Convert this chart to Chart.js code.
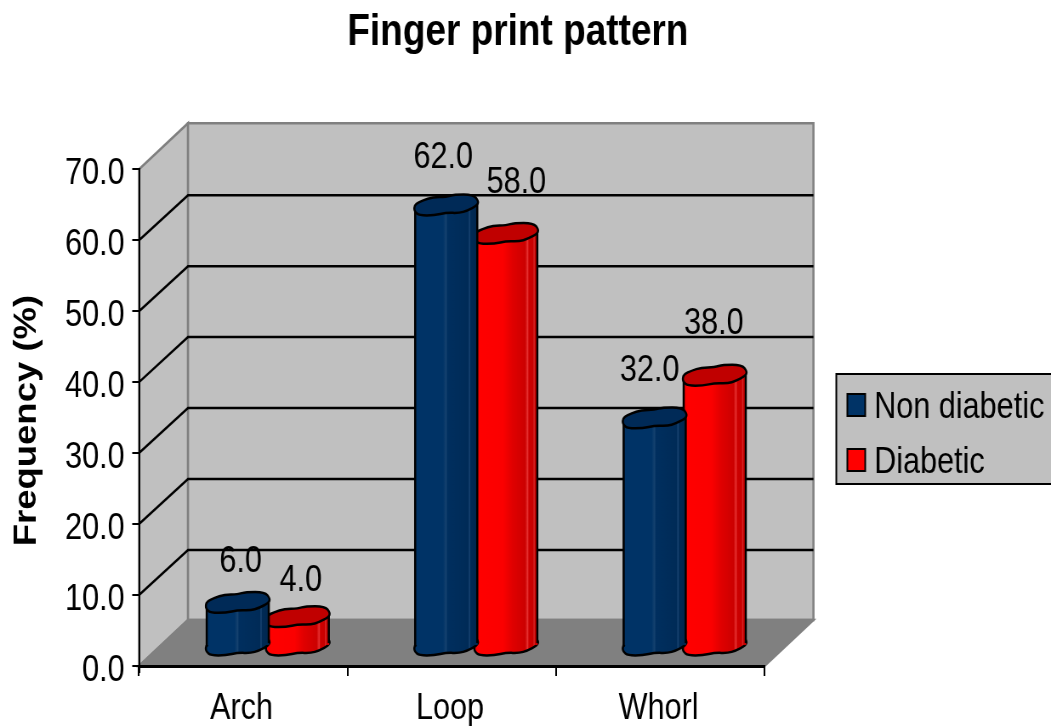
<!DOCTYPE html>
<html>
<head>
<meta charset="utf-8">
<title>Finger print pattern</title>
<script src="https://cdn.jsdelivr.net/npm/chart.js@4"></script>
<style>
  html, body { margin: 0; padding: 0; background: #fff; overflow: hidden; }
  /* horizontal squeeze: wide bitmap shown in a narrower box */
  #myChart { display: block; width: 1051px !important; height: 726px !important; }
</style>
</head>
<body>
<canvas id="myChart" width="1236" height="726"></canvas>
<script>
const categories = ['Arch', 'Loop', 'Whorl'];
const nonDiabetic = [6, 62, 32];
const diabetic = [4, 58, 38];
const yTickLabels = ['0.0', '10.0', '20.0', '30.0', '40.0', '50.0', '60.0', '70.0'];

const FONT = '"Liberation Sans", Arial, sans-serif';
const DEPTH_X = 57.6;
const DEPTH_Y = 46;
const BASE_LIFT = 21;
const CAP_HEIGHT = 19;
const BAR_WIDTH = 74;

/* Lumpy outline of a column cap, in -1..1 units */
const capShape = [
  [-1.02, .3], [-.97, -.12], [-.74, -.48], [-.43, -.82], [0, -.85], [.25, -1.1],
  [.86, -1.1], [1.03, -.41], [.98, .05], [.67, .6], [.41, .85], [0, .81],
  [-.375, 1.1], [-.86, 1.1], [-1, .7]
];

/* Per label nudges from the top of the column: [dx, dy] */
const labelNudges = [
  [[3.5, -40], [3.5, -36]],
  [[-3.5, -47], [12, -50]],
  [[-6, -47], [-1, -51]]
];

const columnColors = [
  { top: '#002a57', stops: [[0, '#003366'], [.45, '#003366'], [.5, '#16426f'], [.52, '#002f5f'], [.85, '#002b57'], [.87, '#1a4573'], [.89, '#002a55'], [1, '#00264d']] },
  { top: '#c00000', stops: [[0, '#f40000'], [.08, '#ff0000'], [.45, '#fb0000'], [.6, '#e00000'], [.8, '#cc0000'], [.84, '#e63030'], [.86, '#cc0000'], [.93, '#c80000'], [.94, '#dc3030'], [.96, '#c80000'], [1, '#c00000']] }
];

function capPath (ctx, cx, cy) {
  const pts = capShape.map(function (p) {
    return [cx + p[0] * BAR_WIDTH / 2, cy + p[1] * CAP_HEIGHT / 2];
  });
  ctx.beginPath();
  const n = pts.length;
  ctx.moveTo((pts[n - 1][0] + pts[0][0]) / 2, (pts[n - 1][1] + pts[0][1]) / 2);
  for (let i = 0; i < n; i++) {
    const next = pts[(i + 1) % n];
    ctx.quadraticCurveTo(pts[i][0], pts[i][1], (pts[i][0] + next[0]) / 2, (pts[i][1] + next[1]) / 2);
  }
  ctx.closePath();
}

function drawColumn (ctx, x, yTop, yBase, colors) {
  const left = x - BAR_WIDTH / 2;
  const right = x + BAR_WIDTH / 2;
  const grad = ctx.createLinearGradient(left, 0, right, 0);
  colors.stops.forEach(function (s) { grad.addColorStop(s[0], s[1]); });

  ctx.save();
  ctx.lineWidth = 2.5;
  ctx.lineJoin = 'round';
  ctx.strokeStyle = '#000';

  capPath(ctx, x, yBase);
  ctx.fillStyle = grad;
  ctx.fill();
  ctx.stroke();

  ctx.fillRect(left, yTop, BAR_WIDTH, yBase - yTop);
  ctx.beginPath();
  ctx.moveTo(left + .5, yTop);
  ctx.lineTo(left + .5, yBase + 2);
  ctx.moveTo(right - .5, yTop - 2);
  ctx.lineTo(right - .5, yBase - 2);
  ctx.stroke();

  capPath(ctx, x, yTop);
  ctx.fillStyle = colors.top;
  ctx.fill();
  ctx.stroke();
  ctx.restore();
}

function fillPoly (ctx, pts, fill) {
  ctx.beginPath();
  pts.forEach(function (p, i) { i ? ctx.lineTo(p[0], p[1]) : ctx.moveTo(p[0], p[1]); });
  ctx.closePath();
  ctx.fillStyle = fill;
  ctx.fill();
  ctx.strokeStyle = '#808080';
  ctx.lineWidth = 2.5;
  ctx.stroke();
}

const columns3d = {
  id: 'columns3d',

  afterLayout: function (chart) {
    // centre the title over its own span rather than the plot
    chart.titleBlock.left = 0;
    chart.titleBlock.right = 1218;
    // lowers the rotated axis title a little, ticks are unaffected
    chart.scales.y.bottom += 6;
  },

  // walls, floor and receding grid lines
  beforeDraw: function (chart) {
    const ctx = chart.ctx;
    const a = chart.chartArea;
    const y = chart.scales.y;
    ctx.save();
    fillPoly(ctx, [[a.left, a.top], [a.left + DEPTH_X, a.top - DEPTH_Y], [a.left + DEPTH_X, a.bottom - DEPTH_Y], [a.left, a.bottom]], '#c0c0c0');
    fillPoly(ctx, [[a.left + DEPTH_X, a.top - DEPTH_Y], [a.right + DEPTH_X, a.top - DEPTH_Y], [a.right + DEPTH_X, a.bottom - DEPTH_Y], [a.left + DEPTH_X, a.bottom - DEPTH_Y]], '#c0c0c0');
    fillPoly(ctx, [[a.left, a.bottom], [a.left + DEPTH_X, a.bottom - DEPTH_Y], [a.right + DEPTH_X, a.bottom - DEPTH_Y], [a.right, a.bottom]], '#808080');

    ctx.strokeStyle = '#000';
    ctx.lineWidth = 2.5;
    y.ticks.forEach(function (t) {
      if (t.value === y.min || t.value === y.max) return;
      const py = y.getPixelForValue(t.value);
      ctx.beginPath();
      ctx.moveTo(a.left, py);
      ctx.lineTo(a.left + DEPTH_X, py - DEPTH_Y + 1);
      ctx.lineTo(a.right + DEPTH_X, py - DEPTH_Y + 1);
      ctx.stroke();
    });
    ctx.restore();
  },

  // columns replace the flat bars
  beforeDatasetDraw: function (chart, args) {
    const ctx = chart.ctx;
    const y = chart.scales.y;
    const values = chart.data.datasets[args.index].data;
    const yBase = y.getPixelForValue(0) - BASE_LIFT;
    args.meta.data.forEach(function (bar, i) {
      const yTop = y.getPixelForValue(values[i]) - BASE_LIFT;
      drawColumn(ctx, bar.x + DEPTH_X / 2, yTop, yBase, columnColors[args.index]);
    });
    return false;
  },

  afterDatasetsDraw: function (chart) {
    const ctx = chart.ctx;
    ctx.save();
    ctx.font = '36px ' + FONT;
    ctx.fillStyle = '#000';
    ctx.textAlign = 'center';
    ctx.textBaseline = 'middle';
    chart.data.datasets.forEach(function (ds, d) {
      chart.getDatasetMeta(d).data.forEach(function (bar, i) {
        const yTop = chart.scales.y.getPixelForValue(ds.data[i]) - BASE_LIFT;
        const nudge = labelNudges[i][d];
        ctx.fillText(ds.data[i].toFixed(1), bar.x + DEPTH_X / 2 + nudge[0], yTop + nudge[1]);
      });
    });

    // legend panel, runs off the right side
    ctx.fillStyle = '#c0c0c0';
    ctx.strokeStyle = '#000';
    ctx.lineWidth = 2;
    ctx.fillRect(983.5, 374, 260, 110);
    ctx.strokeRect(983.5, 374, 260, 110);
    ctx.textAlign = 'left';
    chart.data.datasets.forEach(function (ds, d) {
      const top = 394 + d * 55;
      ctx.fillStyle = ds.backgroundColor;
      ctx.fillRect(996.5, top, 21, 22);
      ctx.strokeRect(996.5, top, 21, 22);
      ctx.fillStyle = '#000';
      ctx.fillText(ds.label, 1028, top + 14);
    });
    ctx.restore();
  }
};

const ctx = document.getElementById('myChart').getContext('2d');

const chart = new Chart(ctx, {
  type: 'bar',
  plugins: [columns3d],
  data: {
    labels: categories,
    datasets: [
      { label: 'Non diabetic', backgroundColor: '#003366', data: nonDiabetic },
      { label: 'Diabetic', backgroundColor: '#ff0000', data: diabetic }
    ]
  },
  options: {
    responsive: false,
    devicePixelRatio: 1,
    animation: false,
    layout: { padding: { right: 337 } },
    datasets: { bar: { categoryPercentage: .576, barPercentage: 1 } },
    scales: {
      x: {
        afterFit: function (scale) { scale.height = 60; },
        grid: { drawOnChartArea: false, color: '#000', lineWidth: 2, tickLength: 10 },
        border: { color: '#000', width: 3 },
        ticks: { color: '#000', padding: 11, labelOffset: -2, font: { family: FONT, size: 36 } }
      },
      y: {
        min: 0,
        max: 70,
        afterFit: function (scale) { scale.width = 163.5; },
        afterBuildTicks: function (scale) {
          scale.ticks = yTickLabels.map(function (label) { return { value: parseFloat(label) }; });
        },
        grid: { drawOnChartArea: false, color: '#000', lineWidth: 2, tickLength: 8 },
        border: { color: '#000', width: 2 },
        ticks: {
          color: '#000',
          padding: 9,
          autoSkip: false,
          labelOffset: 5,
          font: { family: FONT, size: 36 },
          callback: function (value) { return value.toFixed(1); }
        },
        title: {
          display: true,
          text: 'Frequency (%)',
          color: '#000',
          padding: { top: 10, bottom: 0 },
          font: { family: FONT, size: 36.5, weight: 'bold' }
        }
      }
    },
    plugins: {
      legend: { display: false },
      tooltip: { enabled: false },
      title: {
        display: true,
        text: 'Finger print pattern',
        color: '#000',
        padding: { top: 7, bottom: 110 },
        font: { family: FONT, size: 43.5, weight: 'bold' }
      }
    }
  }
});
</script>
</body>
</html>
